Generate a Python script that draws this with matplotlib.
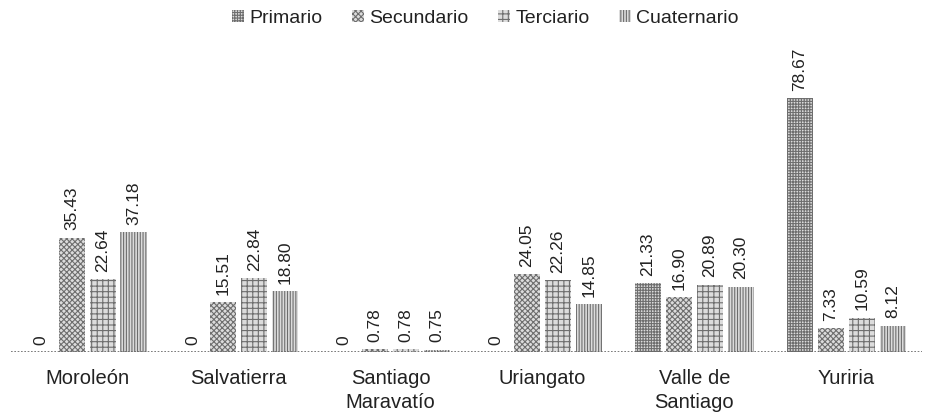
import numpy as np
import matplotlib.pyplot as plt

plt.rcParams['font.family'] = ['Liberation Sans', 'DejaVu Sans']
plt.rcParams['hatch.linewidth'] = 0.8
plt.rcParams['hatch.color'] = '#6e6e6e'

municipios = ['Moroleón', 'Salvatierra', 'Santiago\nMaravatío', 'Uriangato',
              'Valle de\nSantiago', 'Yuriria']
sectores = ['Primario', 'Secundario', 'Terciario', 'Cuaternario']
primario = [0, 0, 0, 0, 21.33, 78.67]
secundario = [35.43, 15.51, 0.78, 24.05, 16.90, 7.33]
terciario = [22.64, 22.84, 0.78, 22.26, 20.89, 10.59]
cuaternario = [37.18, 18.80, 0.75, 14.85, 20.30, 8.12]

series = [primario, secundario, terciario, cuaternario]
hatches = ['++++++', 'xxxxxx', '+++', '||||||']

fig = plt.figure(figsize=(9.25, 4.15), dpi=100)
ax = fig.add_axes([0.012, 0.152, 0.985, 0.75])

x = np.arange(len(municipios))
w = 0.204
for i, (vals, h, name) in enumerate(zip(series, hatches, sectores)):
    pos = x + (i - 1.5) * w
    ax.bar(pos, vals, width=w * 0.84, color='#dcdcdc', hatch=h,
           edgecolor='#6e6e6e', linewidth=0, label=name)
    for p, v in zip(pos, vals):
        txt = '0' if v == 0 else f'{v:.2f}'
        ax.text(p, v + 2.3, txt, rotation=90, ha='center', va='bottom',
                fontsize=12.5, color='#222222')

ax.axhline(0, color='#666666', linestyle=(0, (1, 1)), linewidth=1.2)
ax.set_xlim(-0.5, len(municipios) - 0.5)
ax.set_ylim(0, 96.6)
ax.set_xticks(x)
ax.set_xticklabels(municipios, fontsize=14.5, color='#222222', linespacing=1.35)
ax.tick_params(axis='x', length=0, pad=12)
ax.set_yticks([])
for s in ax.spines.values():
    s.set_visible(False)

fig.legend(loc='upper center', bbox_to_anchor=(0.525, 1.018), ncol=4,
           frameon=False, fontsize=14, handlelength=0.6, handleheight=0.6,
           handletextpad=0.3, columnspacing=1.5, labelcolor='#222222')

fig.savefig('out.png', dpi=100)
